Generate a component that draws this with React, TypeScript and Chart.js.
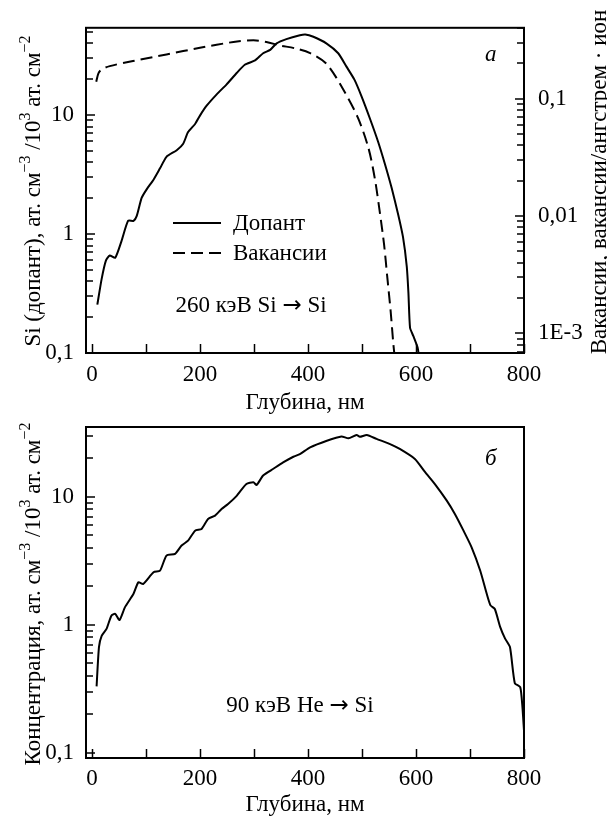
import React, { useEffect, useRef } from 'react';
import { Chart, registerables } from 'chart.js';
Chart.register(...registerables);

const FONT = '"Liberation Serif", "Times New Roman", Times, serif';
const FS = 23;

// ---------- Data: panel (a) 260 keV Si -> Si ----------
const siDepth = [10, 18, 26, 33, 43, 55, 67, 77, 83, 92, 101, 114, 126, 138, 157, 169, 178, 191, 200, 212, 231, 249, 268, 283, 302, 317, 330, 342, 360, 385, 395, 410, 434, 456, 471, 486, 499, 515, 530, 543, 555, 567, 576, 583, 586, 589, 595, 603, 606];
const siDopant = [0.255, 0.42, 0.6, 0.66, 0.63, 0.88, 1.29, 1.29, 1.42, 2.01, 2.36, 2.86, 3.56, 4.45, 5.06, 5.74, 7.18, 8.4, 9.87, 11.9, 14.9, 18.0, 22.5, 26.4, 28.7, 33.0, 35.2, 40, 43.4, 46.8, 47.5, 45.4, 40, 33, 25.6, 19.8, 14.4, 9.25, 5.93, 3.8, 2.43, 1.46, 0.94, 0.53, 0.32, 0.163, 0.139, 0.111, 0.09];

const vacDepth = [8, 12, 18, 33, 76, 138, 200, 262, 299, 323, 348, 375, 404, 435, 468, 493, 512, 524, 533, 541, 547, 553, 558, 561];
const vacValues = [0.14, 0.165, 0.178, 0.19, 0.21, 0.239, 0.272, 0.305, 0.315, 0.305, 0.285, 0.27, 0.245, 0.197, 0.114, 0.068, 0.038, 0.0206, 0.0108, 0.00567, 0.00297, 0.00156, 0.00082, 0.0006];

// ---------- Data: panel (б) 90 keV He -> Si ----------
const heDepth = [8.6, 13, 18, 27, 36, 43, 51, 61, 77, 86, 95, 114, 126, 138, 154, 166, 178, 191, 203, 215, 228, 240, 252, 268, 286, 299, 305, 317, 336, 354, 373, 385, 404, 435, 462, 475, 490, 496, 509, 527, 552, 570, 598, 617, 635, 657, 672, 688, 703, 719, 731, 738, 746, 756, 765, 774, 783, 793, 797, 800];
const heValues = [0.33, 0.67, 0.82, 0.93, 1.18, 1.22, 1.09, 1.37, 1.75, 2.15, 2.09, 2.58, 2.65, 3.48, 3.59, 4.17, 4.55, 5.45, 5.62, 6.73, 7.14, 8.04, 8.8, 10.2, 12.6, 13.0, 12.4, 14.7, 16.6, 18.6, 20.6, 21.6, 24.4, 27.5, 29.7, 28.7, 30.5, 29.5, 30.5, 28.4, 25.9, 23.7, 19.8, 15.6, 12.6, 9.35, 7.36, 5.45, 4.04, 2.65, 1.75, 1.42, 1.33, 0.96, 0.78, 0.67, 0.35, 0.326, 0.23, 0.149];

// ---------- Ticks ----------
const xTickValues = [0, 100, 200, 300, 400, 500, 600, 700, 800];
const xTickLabels = ['0', '', '200', '', '400', '', '600', '', '800'];
const leftLabelValues = [0.1, 1, 10];
const leftLabelTexts = ['0,1', '1', '10'];
const rightLabelValues = [0.001, 0.01, 0.1];
const rightLabelTexts = ['1E-3', '0,01', '0,1'];

const legendLabels = ['Допант', 'Вакансии'];

function logTicks(min: number, max: number) {
  const out: { value: number }[] = [];
  for (let e = -5; e <= 3; e++) {
    for (let m = 1; m <= 9; m++) {
      const v = m * Math.pow(10, e);
      if (v >= min * 0.9999 && v <= max * 1.0001) out.push({ value: v });
    }
  }
  return out;
}
function labelFor(vals: number[], texts: string[], v: number) {
  const i = vals.findIndex((t) => Math.abs(t - v) <= Math.abs(t) * 1e-6);
  return i >= 0 ? texts[i] : '';
}
function isMajor(v: number) {
  const l = Math.log10(v);
  return Math.abs(l - Math.round(l)) < 1e-6;
}

type Part = { t: string; sup?: boolean; font?: string };
function partFont(p: Part, size: number) {
  const s = p.sup ? Math.round(size * 0.68) : size;
  return `${s}px ${p.font || FONT}`;
}
function drawRich(ctx: CanvasRenderingContext2D, parts: Part[], x: number, y: number, rot: number, size: number) {
  ctx.save();
  ctx.translate(x, y);
  ctx.rotate(rot);
  let total = 0;
  const widths = parts.map((p) => {
    ctx.font = partFont(p, size);
    const w = ctx.measureText(p.t).width;
    total += w;
    return w;
  });
  let cx = -total / 2;
  ctx.textBaseline = 'alphabetic';
  ctx.textAlign = 'left';
  ctx.fillStyle = '#000';
  parts.forEach((p, i) => {
    ctx.font = partFont(p, size);
    ctx.fillText(p.t, cx, p.sup ? -size * 0.42 : 0);
    cx += widths[i];
  });
  ctx.restore();
}

function line(ctx: CanvasRenderingContext2D, x1: number, y1: number, x2: number, y2: number) {
  ctx.beginPath();
  ctx.moveTo(x1, y1);
  ctx.lineTo(x2, y2);
  ctx.stroke();
}

function framePlugin(extra: (chart: any) => void) {
  return {
    id: 'frame',
    afterDraw(chart: any) {
      const ctx: CanvasRenderingContext2D = chart.ctx;
      const a = chart.chartArea;
      ctx.save();
      ctx.strokeStyle = '#000';
      ctx.lineWidth = 1.5;
      const xs = chart.scales.x;
      xs.ticks.forEach((t: any) => {
        const px = Math.round(xs.getPixelForValue(t.value)) + 0.5;
        line(ctx, px, a.bottom, px, a.bottom - 9);
      });
      const ys = chart.scales.y;
      ys.ticks.forEach((t: any) => {
        const py = Math.round(ys.getPixelForValue(t.value));
        line(ctx, a.left, py, a.left + (isMajor(t.value) ? 9 : 7), py);
      });
      const y2 = chart.scales.y2;
      if (y2) {
        y2.ticks.forEach((t: any) => {
          const py = Math.round(y2.getPixelForValue(t.value));
          line(ctx, a.right, py, a.right - (isMajor(t.value) ? 9 : 7), py);
        });
      }
      ctx.lineWidth = 2;
      ctx.strokeRect(a.left, a.top, a.right - a.left, a.bottom - a.top);
      ctx.restore();
      ctx.save();
      extra(chart);
      ctx.restore();
    },
  };
}

function xScale(height: number, pad: number) {
  return {
    type: 'linear',
    position: 'bottom',
    min: -11,
    max: 800,
    afterBuildTicks: (s: any) => {
      s.ticks = xTickValues.map((v) => ({ value: v }));
    },
    afterFit: (s: any) => {
      s.height = height;
    },
    grid: { display: false, drawTicks: false },
    border: { display: false },
    ticks: {
      autoSkip: false,
      maxRotation: 0,
      padding: pad,
      color: '#000',
      font: { family: FONT, size: FS },
      callback: (v: any) => labelFor(xTickValues, xTickLabels, Number(v)),
    },
  };
}

function logScale(position: string, min: number, max: number, width: number, pad: number, vals: number[], texts: string[]) {
  return {
    type: 'logarithmic',
    position,
    min,
    max,
    afterBuildTicks: (s: any) => {
      s.ticks = logTicks(min, max);
    },
    afterFit: (s: any) => {
      s.width = width;
    },
    grid: { display: false, drawTicks: false },
    border: { display: false },
    ticks: {
      autoSkip: false,
      padding: pad,
      color: '#000',
      font: { family: FONT, size: FS },
      callback: (v: any) => labelFor(vals, texts, Number(v)),
    },
  };
}

function txt(ctx: CanvasRenderingContext2D, s: string, x: number, y: number, align: CanvasTextAlign, italic = false) {
  ctx.font = `${italic ? 'italic ' : ''}${FS}px ${FONT}`;
  ctx.fillStyle = '#000';
  ctx.textAlign = align;
  ctx.textBaseline = 'alphabetic';
  ctx.fillText(s, x, y);
}

const ARROW_FONT = '"DejaVu Sans", sans-serif';

export default function App() {
  const c1 = useRef<HTMLCanvasElement>(null);
  const c2 = useRef<HTMLCanvasElement>(null);

  useEffect(() => {
    const top = new Chart(c1.current as HTMLCanvasElement, {
      type: 'line',
      data: {
        datasets: [
          {
            label: legendLabels[0],
            data: siDepth.map((x, i) => ({ x, y: siDopant[i] })),
            yAxisID: 'y',
            borderColor: '#000',
            borderWidth: 2,
            pointRadius: 0,
            fill: false,
            tension: 0.2,
          },
          {
            label: legendLabels[1],
            data: vacDepth.map((x, i) => ({ x, y: vacValues[i] })),
            yAxisID: 'y2',
            borderColor: '#000',
            borderWidth: 2,
            borderDash: [12, 6],
            pointRadius: 0,
            fill: false,
            tension: 0.3,
          },
        ],
      } as any,
      options: {
        animation: false,
        responsive: false,
        devicePixelRatio: 1,
        layout: { padding: { left: 0, right: 0, top: 23, bottom: 819 - 353 - 47 } },
        plugins: { legend: { display: false }, tooltip: { enabled: false } },
        scales: {
          x: xScale(47, 8),
          y: logScale('left', 0.1, 54, 86, 12, leftLabelValues, leftLabelTexts),
          y2: logScale('right', 6.8e-4, 0.403, 83, 14, rightLabelValues, rightLabelTexts),
        } as any,
      },
      plugins: [
        framePlugin((chart: any) => {
          const ctx: CanvasRenderingContext2D = chart.ctx;
          ctx.strokeStyle = '#000';
          ctx.lineWidth = 2;
          line(ctx, 173, 223, 221, 223);
          ctx.setLineDash([12, 6]);
          line(ctx, 173, 253, 221, 253);
          ctx.setLineDash([]);
          txt(ctx, legendLabels[0], 233, 230, 'left');
          txt(ctx, legendLabels[1], 233, 260, 'left');
          drawRich(ctx, [{ t: '260 кэВ Si ' }, { t: '→', font: ARROW_FONT }, { t: ' Si' }], 251, 312, 0, FS);
          txt(ctx, 'а', 485, 61, 'left', true);
          txt(ctx, 'Глубина, нм', 305, 409, 'center');
          drawRich(
            ctx,
            [
              { t: 'Si (допант), ат. см' },
              { t: '−3', sup: true },
              { t: ' /10' },
              { t: '3', sup: true },
              { t: ' ат. см' },
              { t: '−2', sup: true },
            ],
            40,
            191,
            -Math.PI / 2,
            FS
          );
          drawRich(ctx, [{ t: 'Вакансии, вакансии/ангстрем · ион' }], 606, 182, -Math.PI / 2, FS);
        }),
      ],
    } as any);

    const bottom = new Chart(c2.current as HTMLCanvasElement, {
      type: 'line',
      data: {
        datasets: [
          {
            label: 'He',
            data: heDepth.map((x, i) => ({ x, y: heValues[i] })),
            yAxisID: 'y',
            borderColor: '#000',
            borderWidth: 2,
            pointRadius: 0,
            fill: false,
            tension: 0.2,
          },
        ],
      } as any,
      options: {
        animation: false,
        responsive: false,
        devicePixelRatio: 1,
        layout: { padding: { left: 0, right: 83, top: 427, bottom: 819 - 758 - 47 } },
        plugins: { legend: { display: false }, tooltip: { enabled: false } },
        scales: {
          x: xScale(47, 7),
          y: logScale('left', 0.091, 35.2, 86, 12, leftLabelValues, leftLabelTexts),
        } as any,
      },
      plugins: [
        framePlugin((chart: any) => {
          const ctx: CanvasRenderingContext2D = chart.ctx;
          drawRich(ctx, [{ t: '90 кэВ He ' }, { t: '→', font: ARROW_FONT }, { t: ' Si' }], 300, 712, 0, FS);
          txt(ctx, 'б', 485, 465, 'left', true);
          txt(ctx, 'Глубина, нм', 305, 811, 'center');
          drawRich(
            ctx,
            [
              { t: 'Концентрация, ат. см' },
              { t: '−3', sup: true },
              { t: ' /10' },
              { t: '3', sup: true },
              { t: ' ат. см' },
              { t: '−2', sup: true },
            ],
            40,
            594,
            -Math.PI / 2,
            FS
          );
        }),
      ],
    } as any);

    return () => {
      top.destroy();
      bottom.destroy();
    };
  }, []);

  const cs: React.CSSProperties = { position: 'absolute', left: 0, top: 0, width: 607, height: 819 };
  return (
    <div style={{ position: 'fixed', left: 0, top: 0, width: 607, height: 819, background: '#fff', overflow: 'hidden' }}>
      <canvas ref={c1} width={607} height={819} style={cs} />
      <canvas ref={c2} width={607} height={819} style={cs} />
    </div>
  );
}
